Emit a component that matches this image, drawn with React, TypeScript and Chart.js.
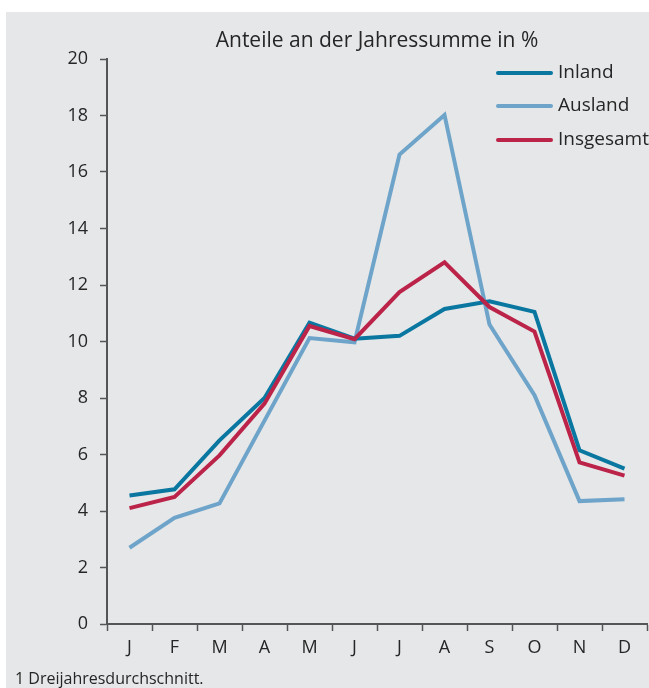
import React, { useEffect, useRef } from "react";
import { Chart, registerables } from "chart.js";

Chart.register(...registerables);

const months = ["J", "F", "M", "A", "M", "J", "J", "A", "S", "O", "N", "D"];
const inland = [4.55, 4.77, 6.5, 8.0, 10.67, 10.1, 10.2, 11.15, 11.42, 11.05, 6.15, 5.5];
const ausland = [2.7, 3.76, 4.27, 7.2, 10.12, 9.97, 16.62, 18.02, 10.6, 8.1, 4.35, 4.42];
const insgesamt = [4.1, 4.5, 5.97, 7.8, 10.55, 10.08, 11.75, 12.8, 11.22, 10.35, 5.72, 5.25];
const yTicks = [0, 2, 4, 6, 8, 10, 12, 14, 16, 18, 20];
const titleText = "Anteile an der Jahressumme in %";
const footnoteText = "1 Dreijahresdurchschnitt.";

const FONT = "'Open Sans', sans-serif";
const TEXT = "#262626";
const AXIS = "#555555";
const C_INLAND = "#0a77a1";
const C_AUSLAND = "#6ea4c9";
const C_INSG = "#bb2349";

export default function App() {
  const ref = useRef<HTMLCanvasElement | null>(null);

  useEffect(() => {
    document.body.style.margin = "0";
    const canvas = ref.current;
    if (!canvas) return;

    const overlay = {
      id: "overlay",
      afterDraw(chart: any) {
        const ctx = chart.ctx;
        const area = chart.chartArea;
        ctx.save();
        // title
        ctx.fillStyle = TEXT;
        ctx.font = `21px ${FONT}`;
        ctx.textAlign = "center";
        ctx.textBaseline = "middle";
        ctx.fillText(titleText, (area.left + area.right) / 2, 41);
        // legend
        const ys = [73, 106, 140];
        chart.data.datasets.forEach((ds: any, i: number) => {
          ctx.strokeStyle = ds.borderColor;
          ctx.lineWidth = 4;
          ctx.lineCap = "round";
          ctx.beginPath();
          ctx.moveTo(498, ys[i]);
          ctx.lineTo(551, ys[i]);
          ctx.stroke();
          ctx.fillStyle = TEXT;
          ctx.font = `19px ${FONT}`;
          ctx.textAlign = "left";
          ctx.textBaseline = "middle";
          ctx.fillText(ds.label, 558, ys[i]);
        });
        // footnote
        ctx.font = `16px ${FONT}`;
        ctx.textAlign = "left";
        ctx.textBaseline = "middle";
        ctx.fillStyle = TEXT;
        ctx.fillText(footnoteText, 15, 679);
        ctx.restore();
      },
    };

    const chart = new Chart(canvas, {
      type: "line",
      data: {
        labels: months,
        datasets: [
          { label: "Inland", data: inland, borderColor: C_INLAND, order: 1 },
          { label: "Ausland", data: ausland, borderColor: C_AUSLAND, order: 2 },
          { label: "Insgesamt", data: insgesamt, borderColor: C_INSG, order: 0 },
        ].map((d) => ({
          ...d,
          backgroundColor: d.borderColor,
          borderWidth: 4,
          pointRadius: 0,
          tension: 0,
          fill: false,
          borderJoinStyle: "miter" as const,
        })),
      },
      options: {
        responsive: false,
        animation: false,
        events: [],
        layout: { padding: { top: 59, left: 7, right: 2, bottom: 0 } },
        plugins: {
          legend: { display: false },
          title: { display: false },
          tooltip: { enabled: false },
        },
        scales: {
          x: {
            type: "category",
            offset: true,
            grid: {
              display: true,
              drawOnChartArea: false,
              drawTicks: true,
              tickLength: 7,
              tickWidth: 1.5,
              tickColor: AXIS,
              offset: true,
            },
            border: { display: true, color: AXIS, width: 2 },
            ticks: {
              color: TEXT,
              font: { family: FONT, size: 18 },
              padding: 6,
              maxRotation: 0,
              autoSkip: false,
            },
            afterFit: (s: any) => {
              s.height = 64;
            },
          },
          y: {
            min: 0,
            max: 20,
            afterBuildTicks: (s: any) => {
              s.ticks = yTicks.map((v) => ({ value: v }));
            },
            grid: {
              display: true,
              drawOnChartArea: false,
              drawTicks: true,
              tickLength: 7,
              tickWidth: 1.5,
              tickColor: AXIS,
            },
            border: { display: true, color: AXIS, width: 2 },
            ticks: {
              color: TEXT,
              font: { family: FONT, size: 18 },
              padding: 12,
            },
            afterFit: (s: any) => {
              s.width = 100;
            },
          },
        },
      },
      plugins: [overlay],
    });

    return () => chart.destroy();
  }, []);

  return (
    <div style={{ position: "relative", width: 649, height: 688, background: "#ffffff" }}>
      <div
        style={{
          position: "absolute",
          left: 6,
          top: 12,
          right: 0,
          bottom: 0,
          background: "#e6e7e9",
        }}
      />
      <canvas
        ref={ref}
        width={649}
        height={688}
        style={{ position: "absolute", left: 0, top: 0, width: 649, height: 688 }}
      />
    </div>
  );
}
